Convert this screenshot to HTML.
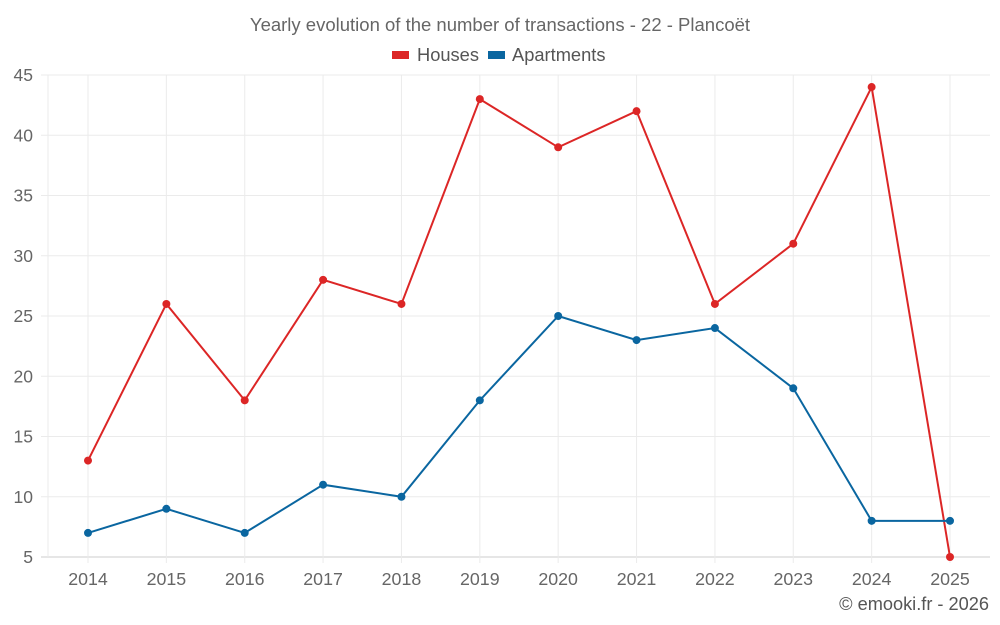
<!DOCTYPE html>
<html><head><meta charset="utf-8"><style>
html,body{margin:0;padding:0;background:#fff;}
svg{display:block;font-family:"Liberation Sans",sans-serif;}
</style></head><body>
<svg id="chart" width="1000" height="625" xmlns="http://www.w3.org/2000/svg">
<text x="500" y="31" text-anchor="middle" font-size="18.5" fill="#666">Yearly evolution of the number of transactions - 22 - Plancoët</text>
<g>
<g><rect x="392" y="51" width="17" height="8" fill="#dc2626"/><text x="417" y="61" font-size="18.3" fill="#555">Houses</text></g>
<g><rect x="488" y="51" width="17" height="8" fill="#0a66a0"/><text x="512" y="61" font-size="18.3" fill="#555">Apartments</text></g>
</g>
<g id="grid"></g><g id="axes"></g><g id="series"></g>
<text x="989" y="610" text-anchor="end" font-size="18.2" fill="#555">© emooki.fr - 2026</text>
</svg>
<script>
const years=[2014,2015,2016,2017,2018,2019,2020,2021,2022,2023,2024,2025];
const houses=[13,26,18,28,26,43,39,42,26,31,44,5];
const apartments=[7,9,7,11,10,18,25,23,24,19,8,8];
const yTicks=[5,10,15,20,25,30,35,40,45];
const NS="http://www.w3.org/2000/svg";
const L=48,R=990,T=75,B=557,x0=88,x1=950,yMin=5,yMax=45;
const xs=i=>x0+(x1-x0)*i/(years.length-1);
const ys=v=>B-(v-yMin)/(yMax-yMin)*(B-T);
function mk(tag,attrs,parent){const e=document.createElementNS(NS,tag);for(const k in attrs)e.setAttribute(k,attrs[k]);parent.appendChild(e);return e;}
const grid=document.getElementById('grid'),axes=document.getElementById('axes'),series=document.getElementById('series');
yTicks.forEach(v=>{
 const l=mk('line',{x1:41,x2:R,y1:ys(v),y2:ys(v),stroke:v===yMin?'#ccc':'#ebebeb','stroke-width':1},grid);
 
 
 const t=mk('text',{x:33,y:ys(v)+6,'text-anchor':'end','font-size':17.5,fill:'#666'},axes);
 t.textContent=v;
 
 
});
const lv=mk('line',{x1:L,x2:L,y1:T,y2:B,stroke:'#ebebeb'},grid);


years.forEach((yr,i)=>{
 const g=mk('line',{x1:xs(i),x2:xs(i),y1:T,y2:B+6,stroke:'#ebebeb'},grid);
 
 
 const t=mk('text',{x:xs(i),y:585,'text-anchor':'middle','font-size':17.8,fill:'#666'},axes);
 t.textContent=yr;
 
 
});
function draw(data,color,name){
 const p=mk('polyline',{points:data.map((v,i)=>xs(i)+','+ys(v)).join(' '),fill:'none',stroke:color,'stroke-width':2},series);
 
 
 data.forEach((v,i)=>{
  const c=mk('circle',{cx:xs(i),cy:ys(v),r:4,fill:color},series);
  
  
 });
}
draw(houses,'#dc2626','houses');
draw(apartments,'#0a66a0','apartments');
</script>
</body></html>
